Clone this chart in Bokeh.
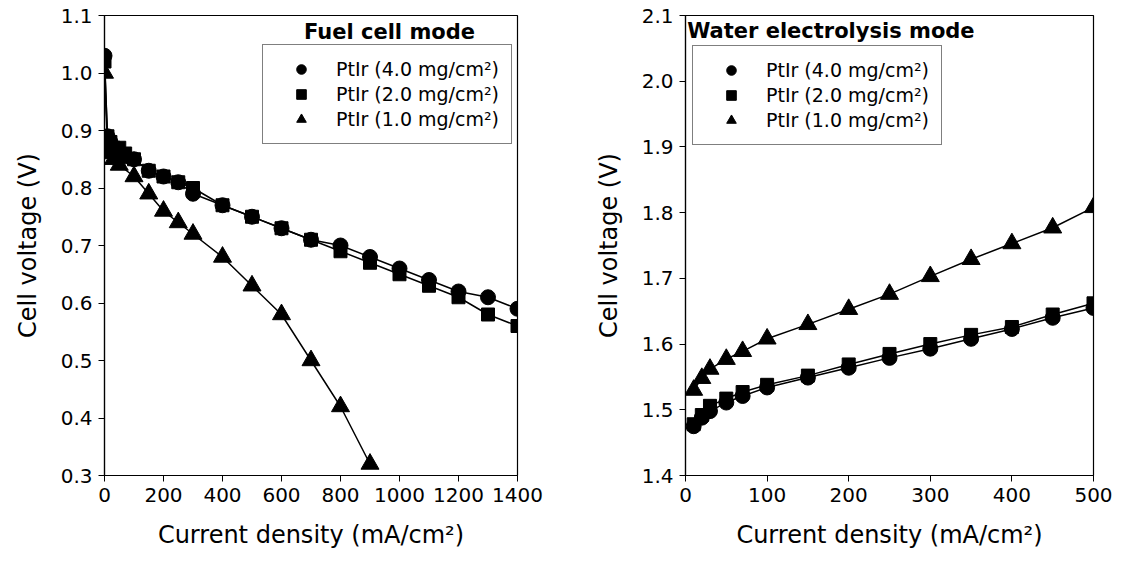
from bokeh.plotting import figure
from bokeh.layouts import row
from bokeh.models import Legend, LegendItem, Label, FixedTicker, NumeralTickFormatter, Range1d
from bokeh.embed import file_html
from bokeh.resources import INLINE

FONT = "DejaVu Sans"

# ---------------- Fuel cell mode data ----------------
fc_x = [0, 10, 20, 30, 50, 70, 100, 150, 200, 250, 300, 400, 500, 600, 700,
        800, 900, 1000, 1100, 1200, 1300, 1400]
fc_v_40 = [1.03, 0.89, 0.88, 0.87, 0.86, 0.855, 0.85, 0.83, 0.82, 0.81, 0.79,
           0.77, 0.75, 0.73, 0.71, 0.70, 0.68, 0.66, 0.64, 0.62, 0.61, 0.59]
fc_v_20 = [1.02, 0.89, 0.88, 0.87, 0.87, 0.86, 0.85, 0.83, 0.82, 0.81, 0.80,
           0.77, 0.75, 0.73, 0.71, 0.69, 0.67, 0.65, 0.63, 0.61, 0.58, 0.56]
fc_x_10 = [0, 10, 20, 30, 50, 100, 150, 200, 250, 300, 400, 500, 600, 700, 800, 900]
fc_v_10 = [1.00, 0.87, 0.86, 0.85, 0.84, 0.82, 0.79, 0.76, 0.74, 0.72, 0.68,
           0.63, 0.58, 0.50, 0.42, 0.32]

# ---------------- Water electrolysis mode data ----------------
we_x = [10, 20, 30, 50, 70, 100, 150, 200, 250, 300, 350, 400, 450, 500]
we_v_40 = [1.475, 1.488, 1.498, 1.511, 1.521, 1.534, 1.549, 1.564, 1.579,
           1.593, 1.608, 1.623, 1.640, 1.655]
we_v_20 = [1.478, 1.492, 1.506, 1.517, 1.527, 1.538, 1.552, 1.569, 1.585,
           1.600, 1.614, 1.626, 1.645, 1.662]
we_v_10 = [1.530, 1.548, 1.562, 1.577, 1.589, 1.608, 1.630, 1.653, 1.676,
           1.703, 1.729, 1.753, 1.777, 1.808]

labels = ["PtIr (4.0 mg/cm\u00b2)", "PtIr (2.0 mg/cm\u00b2)", "PtIr (1.0 mg/cm\u00b2)"]
markers = ["circle", "square", "triangle"]
msizes = [15, 13, 18]

fc_xticks = [0, 200, 400, 600, 800, 1000, 1200, 1400]
fc_yticks = [0.3, 0.4, 0.5, 0.6, 0.7, 0.8, 0.9, 1.0, 1.1]
we_xticks = [0, 100, 200, 300, 400, 500]
we_yticks = [1.4, 1.5, 1.6, 1.7, 1.8, 1.9, 2.0, 2.1]

xlabel = "Current density (mA/cm\u00b2)"
ylabel = "Cell voltage (V)"


def make_fig(width, height, xr, yr, bl, br, bt, bb):
    p = figure(width=width, height=height, x_range=Range1d(*xr), y_range=Range1d(*yr),
               output_backend="svg", toolbar_location=None,
               min_border_left=bl, min_border_right=br, min_border_top=bt, min_border_bottom=bb)
    p.grid.visible = False
    p.outline_line_color = "black"
    p.outline_line_width = 1.2
    p.outline_line_alpha = 1.0
    p.background_fill_color = "white"
    p.border_fill_color = "white"
    for ax in (p.xaxis[0], p.yaxis[0]):
        ax.axis_line_color = "black"
        ax.axis_line_width = 1.2
        ax.major_tick_line_color = "black"
        ax.major_tick_out = 6
        ax.major_tick_in = 0
        ax.minor_tick_out = 0
        ax.minor_tick_in = 0
        ax.major_label_text_font = FONT
        ax.major_label_text_font_size = "20px"
        ax.major_label_text_color = "black"
        ax.major_label_standoff = 6
        ax.axis_label_text_font = FONT
        ax.axis_label_text_font_size = "24px"
        ax.axis_label_text_font_style = "normal"
        ax.axis_label_text_color = "black"
        ax.axis_label_standoff = 16
    p.xaxis.axis_label = xlabel
    p.yaxis.axis_label = ylabel
    return p


def add_series(p, xs_list, ys_list):
    items = []
    for xs, ys, m, s, lab in zip(xs_list, ys_list, markers, msizes, labels):
        p.line(xs, ys, line_color="black", line_width=1.5)
        r = p.scatter(xs, ys, marker=m, size=s, fill_color="black", line_color="black")
        items.append(LegendItem(label=lab, renderers=[r]))
    return items


def add_legend(p, items, loc):
    leg = Legend(items=items, location=loc)
    leg.border_line_color = "black"
    leg.border_line_width = 1
    leg.background_fill_color = "white"
    leg.background_fill_alpha = 1.0
    leg.label_text_font = FONT
    leg.label_text_font_size = "19px"
    leg.label_text_color = "black"
    leg.glyph_width = 52
    leg.glyph_height = 24
    leg.label_height = 24
    leg.label_standoff = 9
    leg.spacing = 1
    leg.padding = 12
    leg.margin = 0
    p.add_layout(leg, "center")


# ---------------- Left panel ----------------
p1 = make_fig(591, 567, (0, 1400), (0.3, 1.1), 104, 74, 15, 90)
p1.xaxis.ticker = FixedTicker(ticks=fc_xticks)
p1.yaxis.ticker = FixedTicker(ticks=fc_yticks)
p1.yaxis.formatter = NumeralTickFormatter(format="0.0")
it1 = add_series(p1, [fc_x, fc_x, fc_x_10], [fc_v_40, fc_v_20, fc_v_10])
add_legend(p1, it1, (158, 331))
p1.add_layout(Label(x=966, y=1.0706, text="Fuel cell mode", text_align="center",
                    text_baseline="middle", text_font=FONT, text_font_size="21px",
                    text_font_style="bold", text_color="black"))

# ---------------- Right panel ----------------
p2 = make_fig(535, 567, (0, 500), (1.4, 2.1), 92, 33, 13, 92)
p2.xaxis.ticker = FixedTicker(ticks=we_xticks)
p2.yaxis.ticker = FixedTicker(ticks=we_yticks)
p2.yaxis.formatter = NumeralTickFormatter(format="0.0")
it2 = add_series(p2, [we_x, we_x, we_x], [we_v_40, we_v_20, we_v_10])
add_legend(p2, it2, (7, 330))
p2.add_layout(Label(x=2, y=2.076, text="Water electrolysis mode", text_align="left",
                    text_baseline="middle", text_font=FONT, text_font_size="21px",
                    text_font_style="bold", text_color="black"))

layout = row(p1, p2)
open("out.html", "w").write(file_html(layout, INLINE))
